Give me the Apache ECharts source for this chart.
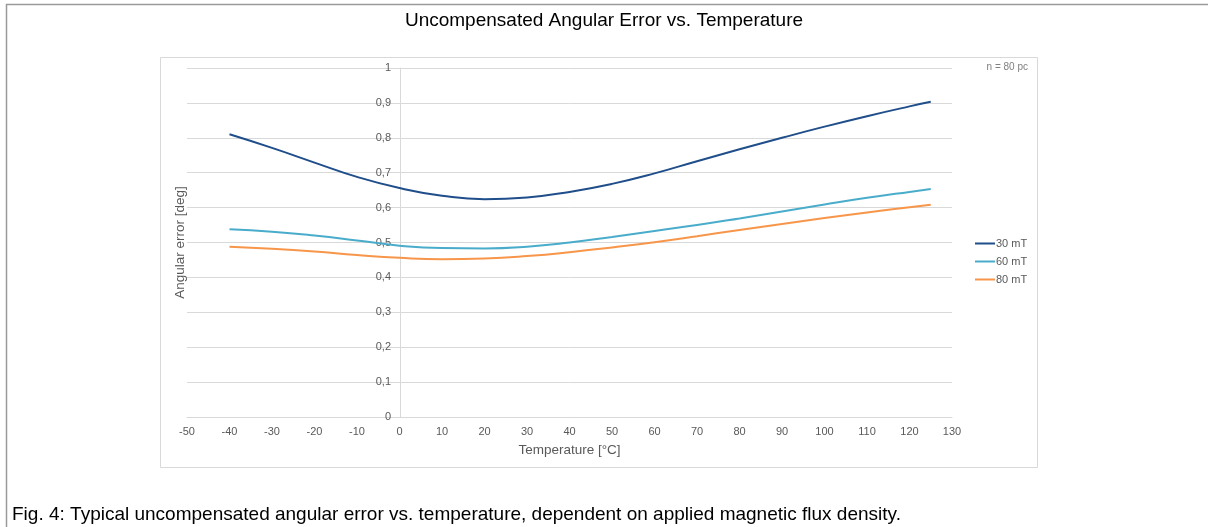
<!DOCTYPE html>
<html>
<head>
<meta charset="utf-8">
<script src="https://cdn.jsdelivr.net/npm/echarts@6/dist/echarts.min.js"></script>
<style>
html,body{margin:0;padding:0;background:#fff;}
#c{width:1208px;height:527px;}
</style>
</head>
<body>
<div id="c"></div>
<script>
const temps = [-40,-30,-20,-10,0,10,20,30,40,50,60,70,80,90,100,110,120,125];
const err30 = [0.810,0.771,0.729,0.688,0.656,0.634,0.624,0.629,0.645,0.668,0.698,0.733,0.767,0.800,0.832,0.862,0.890,0.903];
const err60 = [0.538,0.531,0.520,0.506,0.491,0.484,0.483,0.488,0.500,0.516,0.533,0.550,0.569,0.589,0.609,0.628,0.645,0.653];
const err80 = [0.488,0.482,0.474,0.464,0.456,0.452,0.454,0.461,0.472,0.486,0.501,0.518,0.536,0.553,0.570,0.586,0.601,0.608];
const seriesNames = ['30 mT','60 mT','80 mT'];
const titleText = 'Uncompensated Angular Error vs. Temperature';
const captionText = 'Fig. 4: Typical uncompensated angular error vs. temperature, dependent on applied magnetic flux density.';
const noteText = 'n = 80 pc';

const pair = arr => temps.map((t,i)=>[t,arr[i]]);
const font = '"Liberation Sans", Arial, Helvetica, sans-serif';
const chart = echarts.init(document.getElementById('c'), null, {renderer:'canvas'});
const colors = ['#1f4e8a','#4aaccb','#f7964a'];
chart.setOption({
  animation:false,
  textStyle:{fontFamily:font},
  title:{text:titleText,left:'center',top:6,textStyle:{fontSize:19,fontWeight:'normal',color:'#000',fontFamily:font}},
  graphic:[
    {type:'polyline',shape:{points:[[6.5,527],[6.5,4.5],[1208,4.5]]},style:{stroke:'#9a9a9a',lineWidth:1.5,fill:null},z:-1},
    {type:'rect',shape:{x:160.5,y:57.5,width:877,height:410},style:{stroke:'#d9d9d9',fill:null,lineWidth:1},z:-1},
    {type:'text',right:180,top:62,style:{text:noteText,fill:'#808080',font:'10px '+font,textAlign:'right'}},
    {type:'text',left:12,top:505,style:{text:captionText,fill:'#000',font:'19px '+font}}
  ],
  legend:{orient:'vertical',left:970,top:233,itemWidth:20,itemHeight:2,itemGap:7,icon:'rect',
    data:seriesNames,textStyle:{fontSize:11,color:'#595959',fontFamily:font,padding:[0,0,0,-4]}},
  grid:{left:187,right:256,top:68,bottom:110,containLabel:false,outerBoundsMode:'none'},
  xAxis:{type:'value',min:-50,max:130,interval:10,
    name:'Temperature [°C]',nameLocation:'middle',nameGap:26,
    nameTextStyle:{fontSize:13.5,color:'#595959'},
    axisLine:{show:true,onZero:false,lineStyle:{color:'#d9d9d9'}},axisTick:{show:false},
    axisLabel:{fontSize:11,color:'#595959',margin:9},
    splitLine:{show:false}},
  yAxis:{type:'value',min:0,max:1,interval:0.1,position:'left',offset:-213,
    name:'Angular error [deg]',nameLocation:'middle',nameGap:213,nameRotate:90,
    nameTextStyle:{fontSize:13.5,color:'#595959'},
    axisLine:{show:true,onZero:false,lineStyle:{color:'#d9d9d9'}},axisTick:{show:false},
    axisLabel:{fontSize:11,color:'#595959',margin:9,
      formatter:v=>{const r=Math.round(v*10)/10; return (r===0||r===1)?String(r):r.toFixed(1).replace('.',',');}},
    splitLine:{show:true,lineStyle:{color:'#d9d9d9',width:1}}},
  series:[
    {name:seriesNames[0],type:'line',data:pair(err30),smooth:true,showSymbol:false,lineStyle:{width:2,color:colors[0]},itemStyle:{color:colors[0]}},
    {name:seriesNames[1],type:'line',data:pair(err60),smooth:true,showSymbol:false,lineStyle:{width:2,color:colors[1]},itemStyle:{color:colors[1]}},
    {name:seriesNames[2],type:'line',data:pair(err80),smooth:true,showSymbol:false,lineStyle:{width:2,color:colors[2]},itemStyle:{color:colors[2]}}
  ]
});
</script>
</body>
</html>
